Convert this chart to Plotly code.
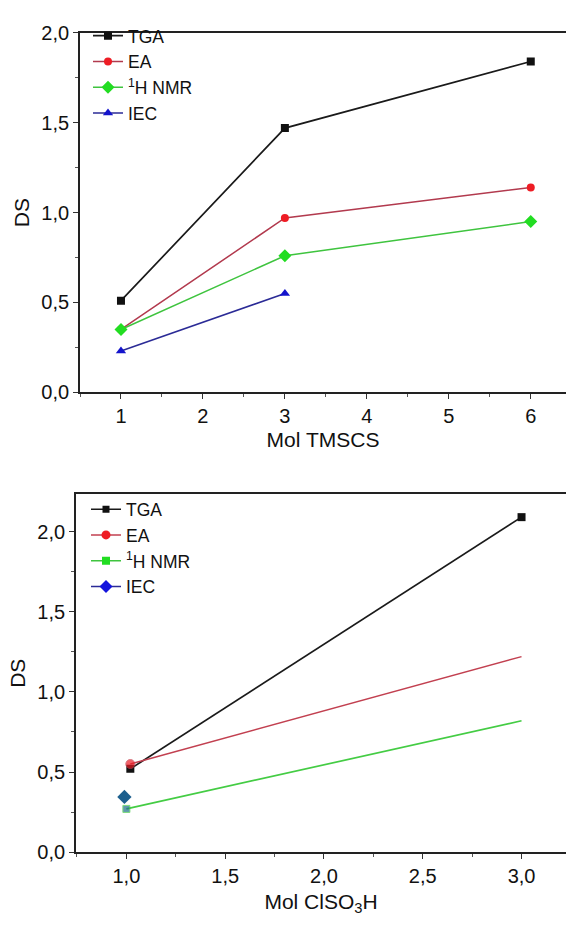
import plotly.graph_objects as go

# ---- Data (top panel: Mol TMSCS) ----
top_x_tga = [1, 3, 6]
top_tga = [0.51, 1.47, 1.84]
top_x_ea = [1, 3, 6]
top_ea = [0.35, 0.97, 1.14]
top_x_nmr = [1, 3, 6]
top_nmr = [0.35, 0.76, 0.95]
top_x_iec = [1, 3]
top_iec = [0.23, 0.55]

# ---- Data (bottom panel: Mol ClSO3H) ----
bot_x_tga = [1.02, 3.0]
bot_tga = [0.52, 2.09]
bot_x_ea = [1.02, 3.0]
bot_ea = [0.55, 1.22]
bot_x_nmr = [1.0, 3.0]
bot_nmr = [0.27, 0.82]
bot_x_iec = [0.99]
bot_iec = [0.345]

series_names = ["TGA", "EA", "<sup>1</sup>H NMR", "IEC"]

FONT = "Liberation Sans, Arial, sans-serif"

fig = go.Figure()

# top panel traces
fig.add_trace(go.Scatter(x=top_x_tga, y=top_tga, mode="lines+markers", name=series_names[0],
                         line=dict(color="#1a1a1a", width=1.7),
                         marker=dict(symbol="square", size=8, color="#111111"),
                         xaxis="x", yaxis="y", legend="legend"))
fig.add_trace(go.Scatter(x=top_x_ea, y=top_ea, mode="lines+markers", name=series_names[1],
                         line=dict(color="#b23a4e", width=1.5),
                         marker=dict(symbol="circle", size=8, color="#ee1c24"),
                         xaxis="x", yaxis="y", legend="legend"))
fig.add_trace(go.Scatter(x=top_x_nmr, y=top_nmr, mode="lines+markers", name=series_names[2],
                         line=dict(color="#3fc43f", width=1.5),
                         marker=dict(symbol="diamond", size=10, color="#22dd22"),
                         xaxis="x", yaxis="y", legend="legend"))
fig.add_trace(go.Scatter(x=top_x_iec, y=top_iec, mode="lines+markers", name=series_names[3],
                         line=dict(color="#2b2b96", width=1.5),
                         marker=dict(symbol="triangle-up", size=9, color="#1414cc"),
                         xaxis="x", yaxis="y", legend="legend"))

# bottom panel data traces
fig.add_trace(go.Scatter(x=bot_x_tga, y=bot_tga, mode="lines+markers", showlegend=False,
                         line=dict(color="#1a1a1a", width=1.7),
                         marker=dict(symbol="square", size=8, color="#111111"),
                         xaxis="x2", yaxis="y2"))
fig.add_trace(go.Scatter(x=bot_x_ea, y=bot_ea, mode="lines+markers", showlegend=False,
                         line=dict(color="#c24050", width=1.5),
                         marker=dict(symbol="circle", size=[9, 0], color="#ee1c24"),
                         xaxis="x2", yaxis="y2"))
fig.add_trace(go.Scatter(x=bot_x_nmr, y=bot_nmr, mode="lines+markers", showlegend=False,
                         line=dict(color="#44cc44", width=1.7),
                         marker=dict(symbol="square", size=[7, 0], color="#1e6f8c"),
                         xaxis="x2", yaxis="y2"))
fig.add_trace(go.Scatter(x=bot_x_iec, y=bot_iec, mode="markers", showlegend=False,
                         marker=dict(symbol="diamond", size=11, color="#1c5f8e"),
                         xaxis="x2", yaxis="y2"))

# bottom legend entries
leg_styles = [
    ("#1a1a1a", "square", "#111111", 7),
    ("#c24050", "circle", "#ee1c24", 9),
    ("#3fc43f", "square", "#22dd22", 8),
    ("#2b2b96", "diamond", "#1414dd", 10),
]
for name, (lc, sym, mc, ms) in zip(series_names, leg_styles):
    fig.add_trace(go.Scatter(x=[None], y=[None], mode="lines+markers", name=name,
                             line=dict(color=lc, width=1.5),
                             marker=dict(symbol=sym, size=ms, color=mc),
                             xaxis="x2", yaxis="y2", legend="legend2"))

axis_common = dict(showline=True, linecolor="#222222", linewidth=1.7, mirror=False,
                   ticks="outside", ticklen=5, tickwidth=1.2, tickcolor="#333333",
                   showgrid=False, zeroline=False,
                   tickfont=dict(family=FONT, size=20, color="#111111"),
                   title_font=dict(family=FONT, size=21, color="#111111"))

fig.update_layout(
    width=566, height=925,
    margin=dict(l=0, r=0, t=0, b=0),
    paper_bgcolor="white", plot_bgcolor="white",
    separators=",.",
    font=dict(family=FONT, color="#111111"),
    xaxis=dict(domain=[80/566, 1], range=[0.5, 6.43], anchor="y",
               tickvals=[1, 2, 3, 4, 5, 6], tickformat="d",
               minor=dict(dtick=0.5, tick0=0.5, ticks="outside", ticklen=3, tickcolor="#555555"),
               title=dict(text="Mol TMSCS", standoff=6),
               **{**axis_common, "mirror": True}),
    yaxis=dict(domain=[1 - 390.7/925, 1 - 22.3/925], range=[0, 2.0], anchor="x",
               tickvals=[0, 0.5, 1.0, 1.5, 2.0], tickformat=".1f",
               minor=dict(dtick=0.25, tick0=0, ticks="outside", ticklen=3, tickcolor="#555555"),
               title=dict(text="DS", standoff=6),
               **axis_common),
    xaxis2=dict(domain=[76/566, 1], range=[0.745, 3.225], anchor="y2",
                tickvals=[1.0, 1.5, 2.0, 2.5, 3.0], tickformat=".1f",
                minor=dict(dtick=0.25, tick0=0, ticks="outside", ticklen=3, tickcolor="#555555"),
                title=dict(text="Mol ClSO<sub>3</sub>H", standoff=8),
                **{**axis_common, "mirror": True}),
    yaxis2=dict(domain=[1 - 861.7/925, 1 - 495/925], range=[0, 2.233], anchor="x2",
                tickvals=[0, 0.5, 1.0, 1.5, 2.0], tickformat=".1f",
                minor=dict(dtick=0.25, tick0=0, ticks="outside", ticklen=3, tickcolor="#555555"),
                title=dict(text="DS", standoff=6),
                **axis_common),
    legend=dict(x=88/566, y=1 - 7/925, xanchor="left", yanchor="top",
                bgcolor="rgba(0,0,0,0)", font=dict(family=FONT, size=17.5, color="#111111"),
                itemwidth=30, tracegroupgap=0),
    legend2=dict(x=86/566, y=1 - 492/925, xanchor="left", yanchor="top",
                 bgcolor="rgba(0,0,0,0)", font=dict(family=FONT, size=17.5, color="#111111"),
                 itemwidth=30, tracegroupgap=0),
)

fig.write_html("out.html")
